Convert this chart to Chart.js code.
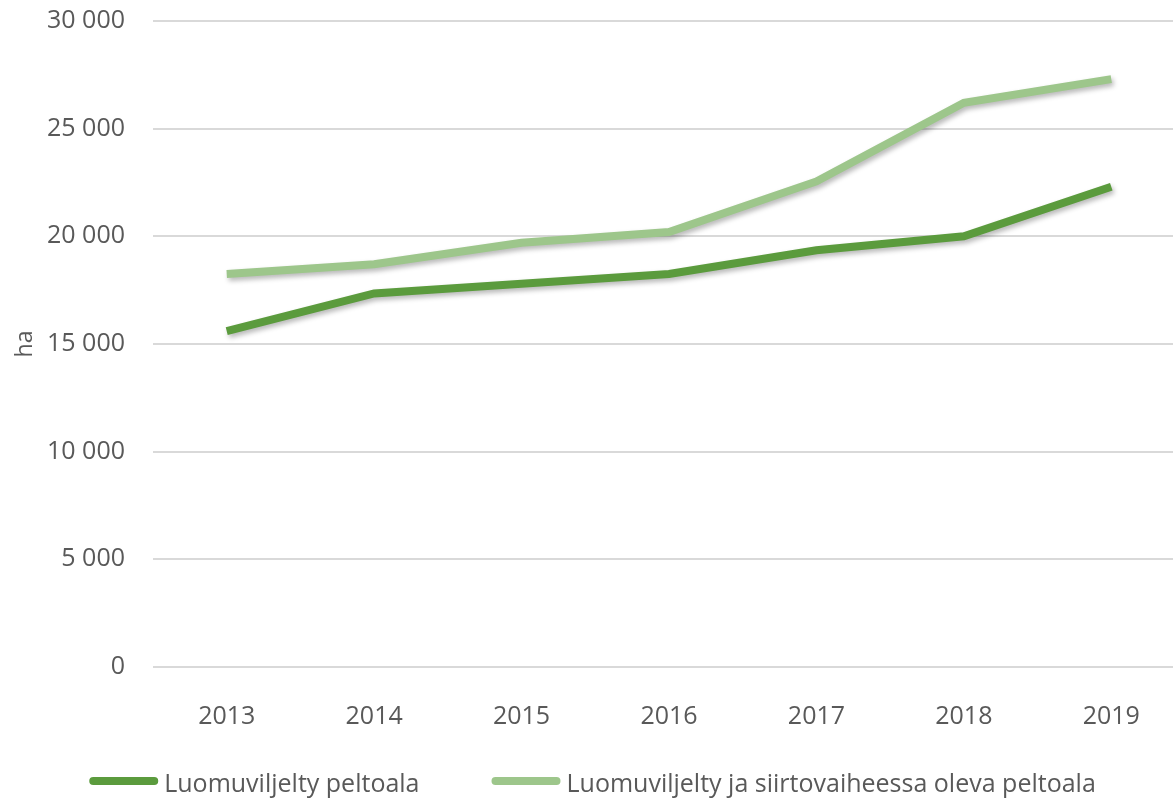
<!DOCTYPE html>
<html>
<head>
<meta charset="utf-8">
<script src="https://cdn.jsdelivr.net/npm/chart.js@4"></script>
<style>
    html, body { margin: 0; padding: 0; background: #fff; overflow: hidden; }
    #wrap { width: 1185px; height: 799px; }
</style>
</head>
<body>
<div id="wrap"><canvas id="myLineChart"></canvas></div>
<script>
const years = ['2013', '2014', '2015', '2016', '2017', '2018', '2019'];
const luomuAla = [15600, 17350, 17800, 18250, 19350, 20000, 22300];
const luomuJaSiirtoAla = [18250, 18700, 19700, 20200, 22550, 26200, 27300];
const yTicks = [0, 5000, 10000, 15000, 20000, 25000, 30000];

const darkGreen = '#5b9b3d';
const lightGreen = '#9dc68b';
const textColor = '#595959';

// varjo viivoille
const lineShadow = {
    id: 'lineShadow',
    beforeDatasetsDraw(chart) {
        const c = chart.ctx;
        c.save();
        c.shadowColor = 'rgba(0,0,0,0.28)';
        c.shadowBlur = 5;
        c.shadowOffsetX = 2;
        c.shadowOffsetY = 3;
    },
    afterDatasetsDraw(chart) {
        chart.ctx.restore();
    }
};

// oma selite: viiva + teksti vierekkäin
const lineLegend = {
    id: 'lineLegend',
    afterDraw(chart) {
        const c = chart.ctx;
        const lineLen = 61, gap = 6, itemGap = 72, y = 781;
        c.save();
        c.font = '25px "Open Sans"';
        c.textBaseline = 'middle';
        const items = chart.data.datasets.map(ds => ({
            text: ds.label,
            color: ds.borderColor,
            w: c.measureText(ds.label).width
        }));
        let total = 0;
        items.forEach((it, i) => {
            total += 4 + lineLen + 4 + gap + it.w + (i < items.length - 1 ? itemGap : 0);
        });
        let x = (chart.width - total) / 2;
        items.forEach(it => {
            c.strokeStyle = it.color;
            c.lineWidth = 8;
            c.lineCap = 'round';
            c.beginPath();
            c.moveTo(x + 4, y);
            c.lineTo(x + 4 + lineLen, y);
            c.stroke();
            x += 4 + lineLen + 4 + gap;
            c.fillStyle = textColor;
            c.fillText(it.text, x, y + 4);
            x += it.w + itemGap;
        });
        c.restore();
    }
};

const ctx = document.getElementById('myLineChart');

new Chart(ctx, {
    type: 'line',
    data: {
        labels: years,
        datasets: [{
            label: 'Luomuviljelty peltoala',
            data: luomuAla,
            borderColor: darkGreen,
            backgroundColor: darkGreen,
            borderWidth: 8,
            pointRadius: 0,
            tension: 0
        }, {
            label: 'Luomuviljelty ja siirtovaiheessa oleva peltoala',
            data: luomuJaSiirtoAla,
            borderColor: lightGreen,
            backgroundColor: lightGreen,
            borderWidth: 8,
            pointRadius: 0,
            tension: 0
        }]
    },
    options: {
        responsive: true,
        maintainAspectRatio: false,
        animation: false,
        layout: {
            padding: { top: 21, right: 0, bottom: 40, left: 0 }
        },
        plugins: {
            legend: { display: false },
            tooltip: { enabled: false }
        },
        scales: {
            x: {
                offset: true,
                grid: { display: false },
                border: { display: false },
                ticks: {
                    color: textColor,
                    font: { family: 'Open Sans', size: 25 },
                    padding: 27,
                    maxRotation: 0
                }
            },
            y: {
                min: 0,
                max: 30000,
                afterFit(scale) {
                    scale.width = 153;
                    scale.paddingTop = 0;
                    scale.paddingBottom = 0;
                },
                afterBuildTicks(scale) {
                    scale.ticks = yTicks.map(v => ({ value: v }));
                },
                grid: {
                    color: '#d9d9d9',
                    lineWidth: 2,
                    drawTicks: false
                },
                border: { display: false },
                ticks: {
                    color: textColor,
                    font: { family: 'Open Sans', size: 25 },
                    padding: 28,
                    callback: v => v.toLocaleString('fi-FI')
                },
                title: {
                    display: true,
                    text: 'ha',
                    color: textColor,
                    font: { family: 'Open Sans', size: 23 },
                    padding: { top: 12, bottom: 0 }
                }
            }
        }
    },
    plugins: [lineShadow, lineLegend]
});
</script>
</body>
</html>
